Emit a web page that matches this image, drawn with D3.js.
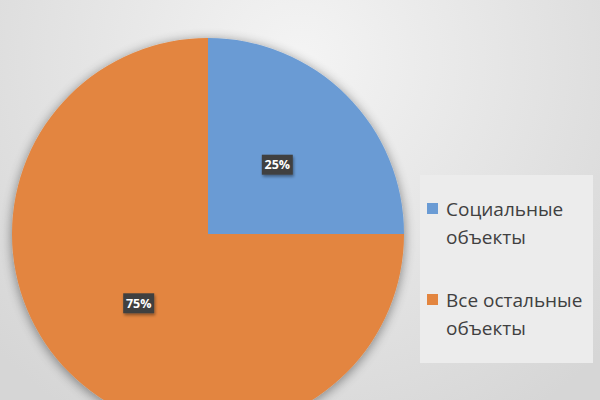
<!DOCTYPE html>
<html><head><meta charset="utf-8">
<script src="https://cdn.jsdelivr.net/npm/d3@7"></script>
<style>html,body{margin:0;padding:0;overflow:hidden;}svg{display:block;}</style>
</head><body>
<svg id="c" width="600" height="400"></svg>
<script>
const categories = ["Социальные объекты", "Все остальные объекты"];
const legendLines = [["Социальные", "объекты"], ["Все остальные", "объекты"]];
const values = [25, 75];
const valueLabels = ["25%", "75%"];
const colors = ["#6a9bd4", "#e3853f"];

const svg = d3.select("#c");
const defs = svg.append("defs");
const bg = defs.append("radialGradient").attr("id","bg")
  .attr("gradientUnits","userSpaceOnUse").attr("cx",300).attr("cy",60).attr("r",420);
bg.append("stop").attr("offset","0%").attr("stop-color","#f4f4f4");
bg.append("stop").attr("offset","100%").attr("stop-color","#d6d6d6");
const sh = defs.append("filter").attr("id","sh").attr("x","-20%").attr("y","-20%").attr("width","140%").attr("height","140%");
sh.append("feGaussianBlur").attr("in","SourceAlpha").attr("stdDeviation",6).attr("result","b");
sh.append("feOffset").attr("in","b").attr("dx",0).attr("dy",2).attr("result","o");
sh.append("feComponentTransfer").attr("in","o").attr("result","o2")
  .append("feFuncA").attr("type","linear").attr("slope",0.45);
const m = sh.append("feMerge");
m.append("feMergeNode").attr("in","o2");
m.append("feMergeNode").attr("in","SourceGraphic");
const sh2 = defs.append("filter").attr("id","sh2").attr("x","-30%").attr("y","-30%").attr("width","160%").attr("height","160%");
sh2.append("feGaussianBlur").attr("in","SourceAlpha").attr("stdDeviation",1.5).attr("result","b");
sh2.append("feOffset").attr("in","b").attr("dx",1).attr("dy",1.5).attr("result","o");
sh2.append("feComponentTransfer").attr("in","o").attr("result","o2")
  .append("feFuncA").attr("type","linear").attr("slope",0.4);
const m2 = sh2.append("feMerge");
m2.append("feMergeNode").attr("in","o2");
m2.append("feMergeNode").attr("in","SourceGraphic");

svg.append("rect").attr("width",600).attr("height",400).attr("fill","url(#bg)");

const cx = 208, cy = 234, r = 196;
const pie = d3.pie().sort(null).value(d => d)(values);
const arc = d3.arc().innerRadius(0).outerRadius(r);
const labelArc = d3.arc().innerRadius(r*0.5).outerRadius(r*0.5);

const g = svg.append("g").attr("transform",`translate(${cx},${cy})`);
g.append("g").attr("filter","url(#sh)").selectAll("path").data(pie).join("path")
  .attr("d", arc).attr("fill", (d,i) => colors[i]);

const lbl = g.selectAll("g.lbl").data(pie).join("g").attr("class","lbl")
  .attr("transform", d => `translate(${labelArc.centroid(d)})`);
lbl.append("rect").attr("x",-15.5).attr("y",-10).attr("width",31).attr("height",20)
  .attr("fill","#404040").attr("filter","url(#sh2)");
lbl.append("text").attr("text-anchor","middle").attr("dy","0.36em")
  .attr("font-family","'Open Sans', sans-serif").attr("font-weight","bold").attr("font-size",12.5)
  .attr("fill","#ffffff").text((d,i) => valueLabels[i]);

// legend
svg.append("rect").attr("x",420).attr("y",175).attr("width",173).attr("height",188).attr("fill","#ececec");
const lg = svg.append("g");
const entryY = [216, 307];
categories.forEach((c,i) => {
  lg.append("rect").attr("x",427).attr("y",entryY[i]-13).attr("width",11).attr("height",11).attr("fill",colors[i]);
  const t = lg.append("text").attr("x",446).attr("y",entryY[i])
    .attr("font-family","'Open Sans', sans-serif").attr("font-size",19).attr("fill","#404040");
  legendLines[i].forEach((line,j) => {
    t.append("tspan").attr("x",446).attr("dy", j===0 ? 0 : 27.5).text(line);
  });
});
</script>
</body></html>
